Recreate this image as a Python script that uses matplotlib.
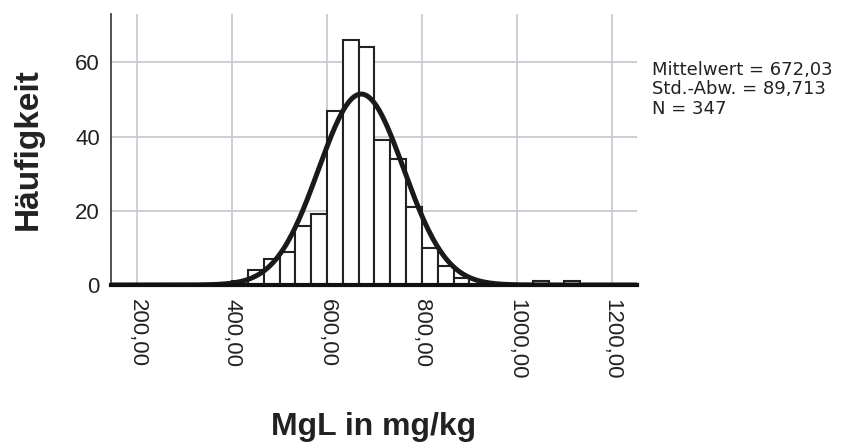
import numpy as np
import matplotlib
matplotlib.use('Agg')
import matplotlib.pyplot as plt

# histogram of MgL (SPSS style), bins of width 33,33 starting at 400
bin_start = 400.0
bin_width = 200.0 / 6
counts = [1, 4, 7, 9, 16, 19, 47, 66, 64, 39, 34, 21, 10, 5, 2,
          0, 0, 0, 0, 1, 0, 1]

mean = 672.03
sd = 89.713
n = 347

xticks = [200, 400, 600, 800, 1000, 1200]
xticklabels = ['200,00', '400,00', '600,00', '800,00', '1000,00', '1200,00']
yticks = [0, 20, 40, 60]
stats_lines = ['Mittelwert = 672,03', 'Std.-Abw. = 89,713', 'N = 347']

plt.rcParams['font.family'] = ['Liberation Sans', 'DejaVu Sans']

fig = plt.figure(figsize=(8.43, 4.44), dpi=100)
ax = fig.add_axes([111/843, 1-285/444, (637-111)/843, (285-14)/444])

lefts = [bin_start + i*bin_width for i in range(len(counts))]
ax.bar(lefts, counts, width=bin_width, align='edge', color='white',
       edgecolor='#222222', linewidth=1.5, zorder=2)

xs = np.linspace(145, 1253, 600)
ys = n * bin_width * np.exp(-0.5*((xs-mean)/sd)**2) / (sd*np.sqrt(2*np.pi))
ax.plot(xs, ys, color='#1a1a1a', linewidth=3.6, zorder=3, solid_capstyle='butt')

ax.set_xlim(145, 1253)
ax.set_ylim(0, 73)
ax.set_xticks(xticks)
ax.set_xticklabels(xticklabels, rotation=270, fontsize=16, color='#222222')
ax.set_yticks(yticks)
ax.set_yticklabels([str(v) for v in yticks], fontsize=16, color='#222222')
ax.tick_params(axis='both', length=0)
ax.tick_params(axis='x', pad=10)
ax.tick_params(axis='y', pad=8)

ax.grid(True, color='#cacad2', linewidth=1.3, zorder=0)
ax.set_axisbelow(True)
for s in ['top', 'right']:
    ax.spines[s].set_visible(False)
ax.spines['left'].set_color('#444444')
ax.spines['left'].set_linewidth(1.3)
ax.spines['bottom'].set_color('#111111')
ax.spines['bottom'].set_linewidth(3.0)
ax.spines['bottom'].set_zorder(4)

fig.text(28/843, 1-149/444, 'Häufigkeit', rotation=90, ha='center', va='center',
         fontsize=24, fontweight='bold', color='#222222')
fig.text(374/843, 1-427/444, 'MgL in mg/kg', ha='center', va='center',
         fontsize=23, fontweight='bold', color='#222222')

# statistics box on the right, one text per line
for i, line in enumerate(stats_lines):
    fig.text(652/843, 1-(75 + i*19.5)/444, line, ha='left', va='baseline',
             fontsize=13, family='DejaVu Sans', color='#222222')

plt.savefig('out.png', dpi=100)
